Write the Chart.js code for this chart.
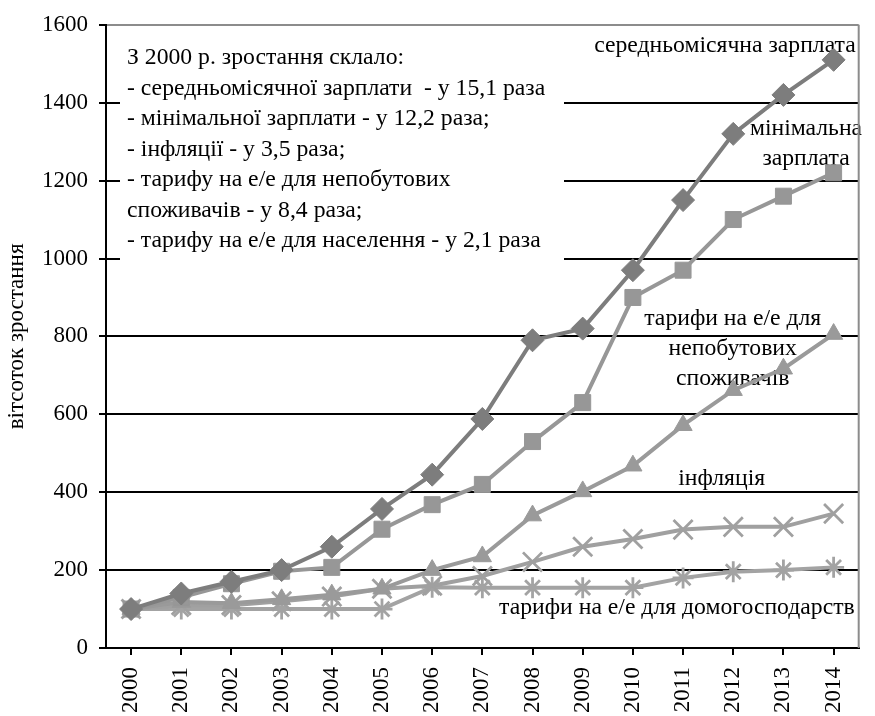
<!DOCTYPE html>
<html>
<head>
<meta charset="utf-8">
<script src="https://cdn.jsdelivr.net/npm/chart.js@4.4.1/dist/chart.umd.min.js"></script>
<style>
    html, body { margin: 0; padding: 0; background: #fff; }
    #wrap { width: 875px; height: 716px; }
</style>
</head>
<body>
<div id="wrap"><canvas id="growth-chart" width="875" height="716"></canvas></div>
<script>
// Values (2000 = 100)
const years = ['2000', '2001', '2002', '2003', '2004', '2005', '2006', '2007',
    '2008', '2009', '2010', '2011', '2012', '2013', '2014'];
const avgWage = [100, 140, 170, 200, 260, 357, 445, 588, 790, 820, 970, 1150, 1320, 1420, 1510];
const minWage = [100, 130, 165, 197, 207, 305, 368, 420, 530, 630, 900, 970, 1100, 1160, 1220];
const tariffBusiness = [100, 118, 115, 125, 137, 152, 200, 235, 340, 402, 468, 572, 662, 717, 806];
const inflation = [100, 110, 110, 120, 132, 152, 160, 185, 221, 260, 280, 304, 311, 311, 345];
const tariffHouseholds = [100, 100, 100, 100, 100, 100, 156, 155, 155, 155, 155, 180, 196, 200, 207];
const yTicks = [0, 200, 400, 600, 800, 1000, 1200, 1400, 1600];

const noteLines = [
    'З 2000 р. зростання склало:',
    '- середньомісячної зарплати  - у 15,1 раза',
    '- мінімальної зарплати - у 12,2 раза;',
    '- інфляції - у 3,5 раза;',
    '- тарифу на е/е для непобутових',
    'споживачів - у 8,4 раза;',
    '- тарифу на е/е для населення - у 2,1 раза',
];

// series captions, placed in data units (category index, value)
const seriesCaptions = [
    { lines: ['середньомісячна зарплата'], x: 14.44, y: 1546, align: 'right' },
    { lines: ['мінімальна', 'зарплата'], x: 13.45, y: 1332, align: 'center' },
    { lines: ['тарифи на е/е для', 'непобутових', 'споживачів'], x: 11.99, y: 845, align: 'center' },
    { lines: ['інфляція'], x: 11.77, y: 434, align: 'center' },
    { lines: ['тарифи на е/е для домогосподарств'], x: 14.42, y: 102, align: 'right' },
];

const FONT = "'Liberation Serif', 'Times New Roman', serif";
Chart.defaults.font.family = FONT;
Chart.defaults.color = '#000';

const textPlugin = {
    id: 'textPlugin',
    beforeDatasetsDraw(chart) {
        const { ctx, chartArea, scales: { x, y } } = chart;
        ctx.save();

        // white note box over the grid
        ctx.fillStyle = '#fff';
        ctx.fillRect(chartArea.left + 14, chartArea.top + 10, 444, 232);
        ctx.fillStyle = '#000';
        ctx.font = '23.7px ' + FONT;
        ctx.textBaseline = 'middle';
        ctx.textAlign = 'left';
        noteLines.forEach((line, i) => {
            ctx.fillText(line, chartArea.left + 21, chartArea.top + 33 + i * 30.5);
        });

        seriesCaptions.forEach(c => {
            ctx.textAlign = c.align;
            const px = x.getPixelForValue(c.x);
            const py = y.getPixelForValue(c.y);
            c.lines.forEach((line, i) => ctx.fillText(line, px, py + i * 30));
        });

        // grey frame on the right
        ctx.strokeStyle = '#8c8c8c';
        ctx.lineWidth = 2;
        ctx.beginPath();
        ctx.moveTo(chartArea.right, chartArea.top);
        ctx.lineTo(chartArea.right, chartArea.bottom);
        ctx.stroke();
        ctx.restore();
    },
};

function series(label, data, color, style, radius, borderW) {
    return {
        label,
        data,
        borderColor: color,
        backgroundColor: color,
        borderWidth: 4,
        tension: 0,
        pointStyle: style,
        pointRadius: radius,
        pointBackgroundColor: color,
        pointBorderColor: color,
        pointBorderWidth: borderW,
    };
}

new Chart(document.getElementById('growth-chart'), {
    type: 'line',
    data: {
        labels: years,
        datasets: [
            series('середньомісячна зарплата', avgWage, '#7d7d7d', 'rectRot', 11.5, 1),
            series('мінімальна зарплата', minWage, '#979797', 'rect', 11.3, 1),
            series('тарифи на е/е для непобутових споживачів', tariffBusiness, '#9a9a9a', 'triangle', 10.5, 1),
            series('інфляція', inflation, '#a0a0a0', 'crossRot', 13.5, 2.8),
            series('тарифи на е/е для домогосподарств', tariffHouseholds, '#a3a3a3', 'star', 10.5, 2.8),
        ],
    },
    options: {
        animation: false,
        responsive: false,
        events: [],
        layout: { padding: { top: 21, right: 4, left: 0, bottom: 0 } },
        plugins: {
            legend: { display: false },
            tooltip: { enabled: false },
        },
        scales: {
            x: {
                offset: true,
                afterFit: s => { s.height = 68; },
                border: { color: '#000', width: 2 },
                grid: {
                    drawOnChartArea: false,
                    drawTicks: true,
                    tickLength: 7,
                    color: '#000',
                    lineWidth: 2,
                },
                ticks: {
                    autoSkip: false,
                    minRotation: 90,
                    maxRotation: 90,
                    padding: 12,
                    font: { size: 23 },
                    color: '#000',
                },
            },
            y: {
                min: 0,
                max: 1600,
                afterFit: s => { s.width = 106; },
                afterBuildTicks: s => { s.ticks = yTicks.map(v => ({ value: v })); },
                border: { color: '#000', width: 2 },
                grid: {
                    color: ctx => (ctx.tick && ctx.tick.value === 1600 ? '#8c8c8c' : '#000'),
                    tickColor: '#000',
                    lineWidth: 2,
                    tickLength: 7,
                },
                ticks: {
                    padding: 11,
                    font: { size: 23 },
                    color: '#000',
                    callback: v => String(v),
                },
                title: {
                    display: true,
                    text: 'вітсоток зростання',
                    font: { size: 23 },
                    color: '#000',
                    padding: { top: 3, bottom: 0 },
                },
            },
        },
    },
    plugins: [textPlugin],
});
</script>
</body>
</html>
